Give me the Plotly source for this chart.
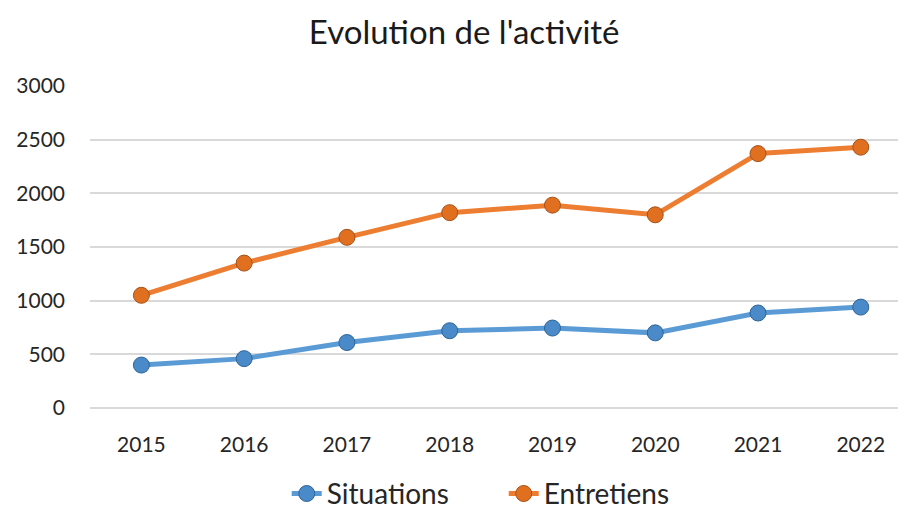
import plotly.graph_objects as go

years = ['2015', '2016', '2017', '2018', '2019', '2020', '2021', '2022']
situations = [400, 460, 610, 720, 745, 700, 885, 940]
entretiens = [1050, 1350, 1590, 1820, 1890, 1800, 2370, 2430]

font = 'Lato, Open Sans, sans-serif'

fig = go.Figure()
fig.add_trace(go.Scatter(x=years, y=situations, name='Situations', mode='lines+markers',
                         line=dict(color='#5B9BD5', width=5),
                         marker=dict(size=16, color='#4A8AC8', line=dict(color='#2E6497', width=1))))
fig.add_trace(go.Scatter(x=years, y=entretiens, name='Entretiens', mode='lines+markers',
                         line=dict(color='#ED7D31', width=5),
                         marker=dict(size=16, color='#E06F20', line=dict(color='#A5521A', width=1))))

# the page body adds 8px around the figure, so size is 898x505
fig.update_layout(
    width=898, height=505,
    margin=dict(l=82, r=0, t=78, b=105, autoexpand=False),
    paper_bgcolor='white', plot_bgcolor='white',
    font=dict(family=font, color='#262626', size=20),
    title=dict(text="Evolution de l'activité", x=0.508, xanchor='center', y=0.952, yanchor='middle',
               font=dict(size=33, color='#1a1a1a', family=font)),
    legend=dict(orientation='h', x=0.507, xanchor='center', yref='container', y=0.038, yanchor='middle',
                entrywidth=172, font=dict(size=28, color='#262626')),
    showlegend=True,
)
fig.update_xaxes(type='category', range=[-0.5, 7.44], showgrid=False, showline=False,
                 ticks='', ticklabelstandoff=22, tickfont=dict(size=21, color='#262626'))
fig.update_yaxes(range=[0, 3000], dtick=500, showgrid=True, gridcolor='#d9d9d9', gridwidth=1.5,
                 zeroline=True, zerolinecolor='#d9d9d9', zerolinewidth=1.5, showline=False,
                 ticks='', ticklabelstandoff=24, tickfont=dict(size=21, color='#262626'))

fig.write_html("out.html")
